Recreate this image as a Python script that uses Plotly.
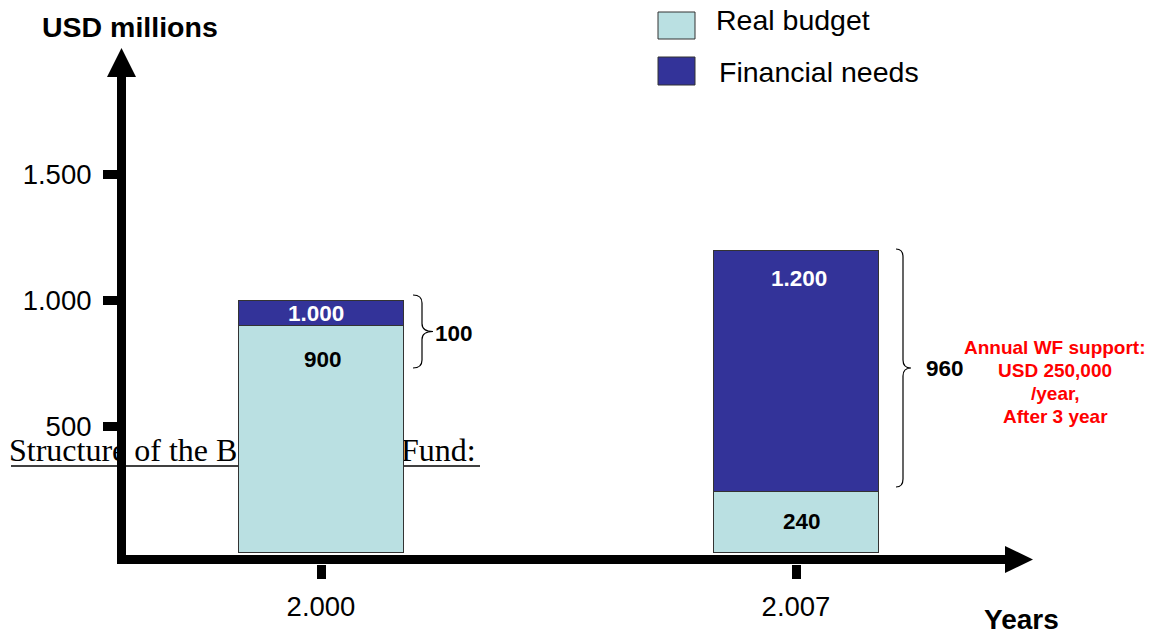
import plotly.graph_objects as go

# ---- data ----
years = ["2.000", "2.007"]
real_budget = [900, 240]
financial_needs = [1000, 1200]
y_ticks = [500, 1000, 1500]
y_tick_labels = ["500", "1.000", "1.500"]
note_lines = ["Annual WF support:", "USD 250,000", "/year,", "After 3 year"]

LIGHT = "#BAE0E2"
DARK = "#333399"
W, H = 1152, 634
SANS = "Liberation Sans, Arial, sans-serif"

gap = [n - b for n, b in zip(financial_needs, real_budget)]


def fmt(v):
    return f"{v:,}".replace(",", ".")


fig = go.Figure()

# underlying text (drawn on base subplot so bars cover it)
fig.add_trace(go.Scatter(
    x=[9, 401], y=[453, 453], mode="text",
    text=["Structure of the Ba", "Fund:"], textposition="middle right",
    textfont=dict(family="Liberation Serif, Times New Roman, serif", size=32, color="black"),
    hoverinfo="skip", showlegend=False, xaxis="x", yaxis="y"))

# bars on overlay subplot
fig.add_trace(go.Bar(
    x=years, y=real_budget, name="Real budget", marker=dict(color=LIGHT, line=dict(color="#333333", width=1)),
    width=0.347, xaxis="x2", yaxis="y2", showlegend=False, hoverinfo="skip"))
fig.add_trace(go.Bar(
    x=years, y=gap, name="Financial needs", marker=dict(color=DARK, line=dict(color="#333333", width=1)),
    width=0.347, xaxis="x2", yaxis="y2", showlegend=False, hoverinfo="skip"))

shapes = []
# underline (below traces)
shapes.append(dict(type="line", xref="x", yref="y", x0=11, x1=480, y0=466, y1=466,
                   line=dict(color="black", width=1.5), layer="below"))
# axes arrows
shapes.append(dict(type="rect", xref="x", yref="y", x0=117, x1=126, y0=77, y1=561,
                   fillcolor="black", line=dict(width=0), layer="above"))
shapes.append(dict(type="path", xref="x", yref="y", path="M 121.5 48 L 107 77 L 136 77 Z",
                   fillcolor="black", line=dict(width=0), layer="above"))
shapes.append(dict(type="rect", xref="x", yref="y", x0=117, x1=1006, y0=555, y1=564,
                   fillcolor="black", line=dict(width=0), layer="above"))
shapes.append(dict(type="path", xref="x", yref="y", path="M 1033 559.5 L 1005 546 L 1005 573 Z",
                   fillcolor="black", line=dict(width=0), layer="above"))


def brace(x0, xv, xt, top, bottom, r=8):
    mid = (top + bottom) / 2
    return (f"M {x0} {top} Q {xv} {top} {xv} {top + r} L {xv} {mid - r} "
            f"Q {xv} {mid} {xt} {mid} Q {xv} {mid} {xv} {mid + r} "
            f"L {xv} {bottom - r} Q {xv} {bottom} {x0} {bottom}")


shapes.append(dict(type="path", xref="x", yref="y", path=brace(413, 422, 433, 295, 368),
                   line=dict(color="black", width=1.2), layer="above"))
shapes.append(dict(type="path", xref="x", yref="y", path=brace(896, 903, 911, 249, 487),
                   line=dict(color="black", width=1.2), layer="above"))

# legend boxes
shapes.append(dict(type="rect", xref="x", yref="y", x0=658, x1=695, y0=12, y1=39,
                   fillcolor=LIGHT, line=dict(color="#333333", width=1), layer="above"))
shapes.append(dict(type="rect", xref="x", yref="y", x0=658, x1=695, y0=57, y1=85,
                   fillcolor=DARK, line=dict(color="#333333", width=1), layer="above"))

ann = []
ann.append(dict(text="<b>USD millions</b>", x=130, y=27, xref="x", yref="y", showarrow=False,
                font=dict(family=SANS, size=28.5, color="black")))
ann.append(dict(text="<b>Years</b>", x=1021, y=619, xref="x", yref="y", showarrow=False,
                font=dict(family=SANS, size=28, color="black")))
ann.append(dict(text="Real budget", x=714, y=20, xref="x", yref="y", showarrow=False, xanchor="left",
                font=dict(family=SANS, size=28.5, color="black")))
ann.append(dict(text="Financial needs", x=717, y=72, xref="x", yref="y", showarrow=False, xanchor="left",
                font=dict(family=SANS, size=28.5, color="black")))

LBL = dict(family=SANS, size=22.5)
# bar labels (category index positions on x2)
ann.append(dict(text=f"<b>{fmt(financial_needs[0])}</b>", x=0, y=(real_budget[0] + financial_needs[0]) / 2,
                xref="x2", yref="y2", showarrow=False, font=dict(LBL, color="white"), xshift=-5))
ann.append(dict(text=f"<b>{fmt(real_budget[0])}</b>", x=0, y=real_budget[0], yshift=-34,
                xref="x2", yref="y2", showarrow=False, font=dict(LBL, color="black"), xshift=2))
ann.append(dict(text=f"<b>{fmt(financial_needs[1])}</b>", x=1, y=financial_needs[1], yshift=-28,
                xref="x2", yref="y2", showarrow=False, font=dict(LBL, color="white"), xshift=3))
ann.append(dict(text=f"<b>{fmt(real_budget[1])}</b>", x=1, y=real_budget[1] / 2,
                xref="x2", yref="y2", showarrow=False, font=dict(LBL, color="black"), xshift=6))
# brace labels
ann.append(dict(text=f"<b>{gap[0]}</b>", x=433, y=333, xref="x", yref="y", showarrow=False, xanchor="left",
                font=dict(LBL, color="black")))
ann.append(dict(text=f"<b>{gap[1]}</b>", x=945, y=368, xref="x", yref="y", showarrow=False,
                font=dict(LBL, color="black")))
for i, line in enumerate(note_lines):
    ann.append(dict(text=f"<b>{line}</b>", x=1055, y=347 + 23.3 * i, xref="x", yref="y",
                    showarrow=False, font=dict(family=SANS, size=19, color="#FF0000")))

px_per_unit = 0.2515
zero_px = 552
y2_range = [-(H - zero_px) / px_per_unit, zero_px / px_per_unit]
cat_px = [321, 796]
ppu = cat_px[1] - cat_px[0]
x2_range = [-cat_px[0] / ppu, (W - cat_px[0]) / ppu]

fig.update_layout(
    width=W, height=H, margin=dict(l=0, r=0, t=0, b=0),
    paper_bgcolor="white", plot_bgcolor="white",
    barmode="stack", showlegend=False,
    shapes=shapes, annotations=ann,
    xaxis=dict(range=[0, W], visible=False, domain=[0, 1], fixedrange=True),
    yaxis=dict(range=[H, 0], visible=False, domain=[0, 1], fixedrange=True),
    xaxis2=dict(overlaying="x", anchor="free", position=(H - 564) / H, type="category",
                range=x2_range, showgrid=False, zeroline=False, showline=False,
                ticks="outside", ticklen=14, tickwidth=9, tickcolor="black",
                tickfont=dict(family=SANS, size=27.5, color="black"), ticklabelstandoff=4),
    yaxis2=dict(overlaying="y", anchor="free", position=117 / W, side="left",
                range=y2_range, showgrid=False, zeroline=False, showline=False,
                tickvals=y_ticks, ticktext=y_tick_labels,
                ticks="outside", ticklen=14, tickwidth=9, tickcolor="black",
                tickfont=dict(family=SANS, size=27.5, color="black"), ticklabelstandoff=6),
)

fig.write_html("out.html")
